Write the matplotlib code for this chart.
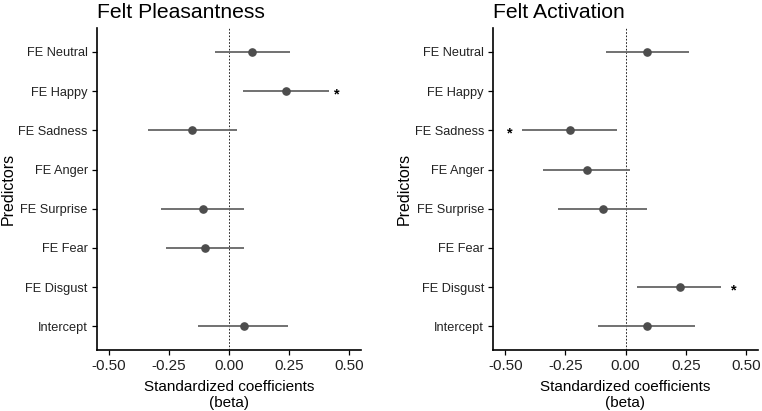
import numpy as np
import matplotlib
matplotlib.use("Agg")
import matplotlib.pyplot as plt

plt.rcParams['font.family'] = ['Liberation Sans', 'DejaVu Sans']

predictors = ["FE Neutral", "FE Happy", "FE Sadness", "FE Anger",
              "FE Surprise", "FE Fear", "FE Disgust", "Intercept"]

nan = np.nan
# Felt Pleasantness
pleas_est = [0.097, 0.238, -0.153, nan, -0.110, -0.101, nan, 0.060]
pleas_lo = [-0.060, 0.058, -0.336, nan, -0.283, -0.264, nan, -0.130]
pleas_hi = [0.254, 0.417, 0.033, nan, 0.063, 0.060, nan, 0.246]
pleas_star_pos = [nan, 0.45, nan, nan, nan, nan, nan, nan]

# Felt Activation
act_est = [0.090, nan, -0.232, -0.162, -0.094, nan, 0.225, 0.087]
act_lo = [-0.083, nan, -0.429, -0.344, -0.280, nan, 0.047, -0.116]
act_hi = [0.264, nan, -0.037, 0.017, 0.088, nan, 0.397, 0.289]
act_star_pos = [nan, nan, -0.483, nan, nan, nan, 0.448, nan]

xticks = [-0.50, -0.25, 0.00, 0.25, 0.50]
xticklabels = ["-0.50", "-0.25", "0.00", "0.25", "0.50"]

W, H = 762, 411
fig = plt.figure(figsize=(W / 100, H / 100), dpi=100)

panels = [
    ("Felt Pleasantness", pleas_est, pleas_lo, pleas_hi, pleas_star_pos, 96.7, 361.0),
    ("Felt Activation", act_est, act_lo, act_hi, act_star_pos, 493.0, 757.7),
]

top_px, bot_px = 28.3, 350.0
n = len(predictors)
ypos = np.arange(n)[::-1]  # Neutral at top

for title, est, lo, hi, stars, x0, x1 in panels:
    ax = fig.add_axes([x0 / W, 1 - bot_px / H, (x1 - x0) / W, (bot_px - top_px) / H])
    est = np.array(est); lo = np.array(lo); hi = np.array(hi)
    ax.axvline(0, color='black', lw=0.6, ls=(0, (2, 2)), zorder=1)
    for y, e, l, h in zip(ypos, est, lo, hi):
        if np.isnan(e):
            continue
        ax.plot([l, h], [y, y], color='#666666', lw=1.3, solid_capstyle='butt', zorder=2)
        ax.plot([e], [y], 'o', color='#4d4d4d', ms=5.2, mec='#4d4d4d', zorder=3)
    for y, s in zip(ypos, stars):
        if not np.isnan(s):
            ax.text(s, y - 0.09, "*", ha='center', va='center', fontsize=10.5,
                    fontweight='bold', color='black')
    ax.set_xlim(-0.551, 0.549)
    ax.set_ylim(-0.6, n - 1 + 0.6)
    ax.set_yticks(ypos)
    ax.set_yticklabels(predictors, fontsize=9.2, color='#222222')
    ax.set_xticks(xticks)
    ax.set_xticklabels(xticklabels, fontsize=11, color='#222222')
    for side in ['top', 'right']:
        ax.spines[side].set_visible(False)
    for side in ['left', 'bottom']:
        ax.spines[side].set_linewidth(1.2)
        ax.spines[side].set_color('black')
    ax.tick_params(axis='both', length=3.5, width=0.9, color='black', pad=3)
    ax.set_xlabel("Standardized coefficients\n(beta)", fontsize=11, linespacing=1.15, labelpad=5)
    ax.set_ylabel("Predictors", fontsize=11.5, labelpad=2)
    ax.set_title(title, fontsize=15.2, loc='left', pad=7.5)

fig.savefig("out.png", dpi=100)
